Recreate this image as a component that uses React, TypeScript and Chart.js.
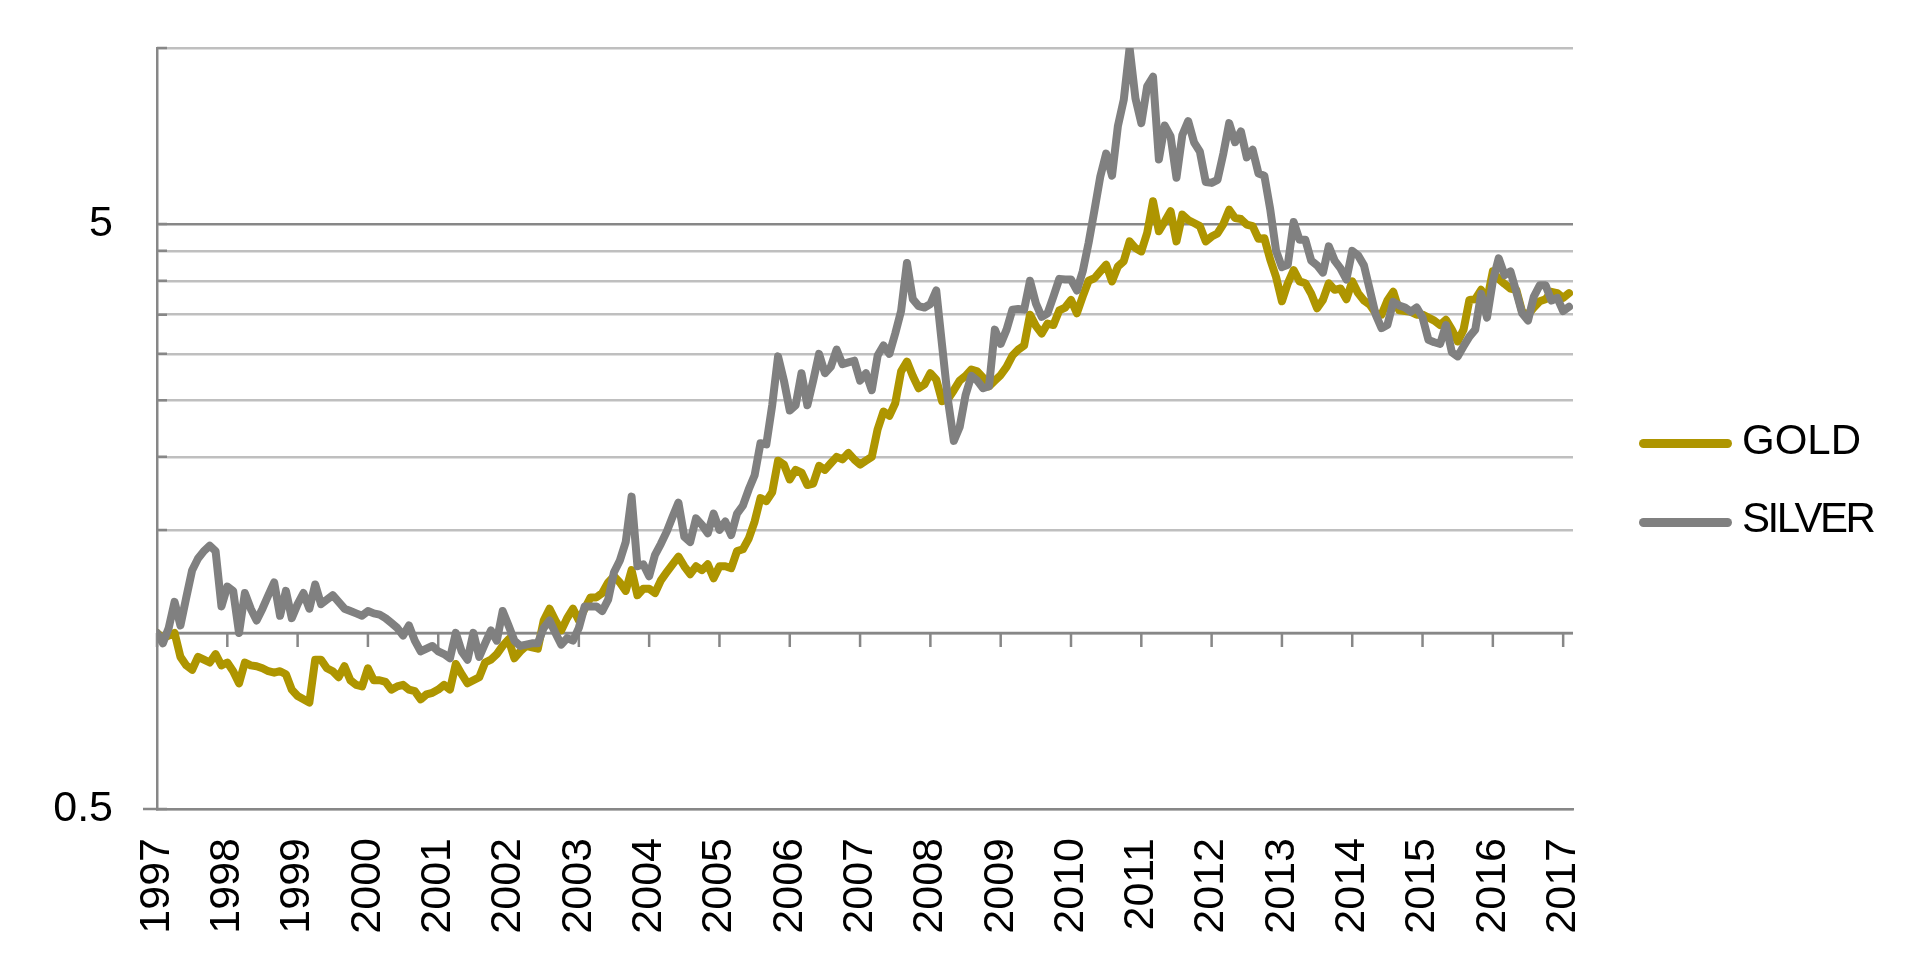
import { useEffect, useRef } from 'react';
import { Chart, registerables } from 'chart.js';

Chart.register(...registerables);

// monthly index values, Jan 1997 = 1 (Jan 1997 .. Feb 2017)
const gold = [
	1.0, 0.98, 0.99, 1.0, 0.91, 0.88, 0.865, 0.91, 0.9, 0.89, 0.92, 0.88,
	0.89, 0.86, 0.82, 0.89, 0.88, 0.877, 0.87, 0.86, 0.855, 0.86, 0.85, 0.8,
	0.78, 0.77, 0.76, 0.9, 0.9, 0.87, 0.86, 0.84, 0.877, 0.83, 0.815, 0.81,
	0.87, 0.83, 0.83, 0.825, 0.8, 0.81, 0.815, 0.8, 0.795, 0.77, 0.785, 0.79,
	0.8, 0.815, 0.8, 0.885, 0.85, 0.82, 0.83, 0.84, 0.89, 0.9, 0.92, 0.95,
	0.975, 0.905, 0.93, 0.95, 0.945, 0.94, 1.05, 1.1, 1.05, 1.01, 1.06, 1.1,
	1.05, 1.1, 1.15, 1.15, 1.17, 1.22, 1.25, 1.22, 1.18, 1.28, 1.16, 1.19,
	1.19, 1.17, 1.23, 1.27, 1.31, 1.35, 1.3, 1.26, 1.3, 1.28, 1.31, 1.24,
	1.3, 1.3, 1.29, 1.38, 1.39, 1.45, 1.55, 1.7, 1.68, 1.74, 1.97, 1.94,
	1.83, 1.9, 1.88, 1.79, 1.8, 1.93, 1.9, 1.95, 2.0, 1.98, 2.03, 1.98,
	1.94, 1.97, 2.0, 2.23, 2.39, 2.35, 2.47, 2.8, 2.91, 2.75, 2.62, 2.66,
	2.78, 2.71, 2.49, 2.51, 2.6, 2.7, 2.75, 2.82, 2.8, 2.73, 2.64, 2.7,
	2.76, 2.85, 2.98, 3.05, 3.1, 3.5, 3.35, 3.25, 3.38, 3.36, 3.56, 3.6,
	3.71, 3.52, 3.76, 4.0, 4.04, 4.15, 4.26, 3.99, 4.23, 4.32, 4.67, 4.55,
	4.49, 4.83, 5.47, 4.86, 5.05, 5.26, 4.67, 5.19, 5.08, 5.02, 4.96, 4.67,
	4.76, 4.82, 5.0, 5.29, 5.12, 5.1, 4.99, 4.96, 4.72, 4.73, 4.35, 4.06,
	3.69, 3.96, 4.17, 3.99, 3.96, 3.8, 3.59, 3.71, 3.96, 3.86, 3.88, 3.72,
	3.99, 3.81, 3.7, 3.64, 3.52, 3.5, 3.7, 3.83, 3.56, 3.55, 3.54, 3.5,
	3.5, 3.46, 3.42, 3.36, 3.43, 3.3, 3.15, 3.3, 3.71, 3.72, 3.86, 3.7,
	4.15, 4.03, 3.95, 3.88, 3.86, 3.54, 3.5, 3.6, 3.69, 3.72, 3.83, 3.81,
	3.74, 3.81,
];

const silver = [
	1.0, 0.96, 1.02, 1.13, 1.03, 1.15, 1.28, 1.34, 1.38, 1.41, 1.38, 1.11,
	1.2, 1.18, 1.0, 1.17, 1.1, 1.05, 1.1, 1.16, 1.22, 1.07, 1.18, 1.06,
	1.12, 1.17, 1.1, 1.21, 1.12, 1.14, 1.16, 1.13, 1.1, 1.09, 1.08, 1.07,
	1.09, 1.08, 1.075, 1.06, 1.04, 1.02, 0.99, 1.03, 0.97, 0.93, 0.94, 0.95,
	0.93, 0.92, 0.905, 1.0, 0.93, 0.9, 1.0, 0.91, 0.96, 1.01, 0.97, 1.09,
	1.03, 0.97, 0.95, 0.955, 0.96, 0.96, 1.02, 1.05, 1.0, 0.955, 0.98, 0.97,
	1.02, 1.11, 1.11, 1.11, 1.09, 1.14, 1.27, 1.33, 1.43, 1.71, 1.3, 1.31,
	1.25, 1.36, 1.42, 1.49, 1.58, 1.67, 1.46, 1.43, 1.57, 1.53, 1.48, 1.6,
	1.5, 1.55, 1.47, 1.6, 1.65, 1.76, 1.86, 2.11, 2.1, 2.45, 2.97, 2.7,
	2.4, 2.45, 2.78, 2.45, 2.7, 3.0, 2.78, 2.85, 3.05, 2.88, 2.9, 2.92,
	2.7, 2.78, 2.6, 2.98, 3.1, 3.0, 3.25, 3.55, 4.29, 3.72, 3.62, 3.6,
	3.65, 3.85, 3.1, 2.5, 2.13, 2.25, 2.55, 2.75, 2.7, 2.62, 2.64, 3.3,
	3.12, 3.3, 3.57, 3.58, 3.57, 4.0, 3.66, 3.47, 3.52, 3.76, 4.03, 4.02,
	4.02, 3.85, 4.15, 4.64, 5.28, 6.03, 6.6, 6.05, 7.35, 8.15, 10.0, 8.2,
	7.44, 8.6, 8.93, 6.45, 7.37, 7.06, 6.0, 7.1, 7.5, 6.9, 6.65, 5.9,
	5.88, 5.95, 6.6, 7.44, 6.9, 7.2, 6.5, 6.7, 6.1, 6.05, 5.3, 4.5,
	4.22, 4.26, 5.04, 4.7, 4.7, 4.33, 4.25, 4.13, 4.58, 4.33, 4.2, 4.02,
	4.5, 4.42, 4.25, 3.86, 3.5, 3.32, 3.36, 3.68, 3.63, 3.6, 3.54, 3.6,
	3.46, 3.17, 3.14, 3.12, 3.36, 3.02, 2.97, 3.09, 3.21, 3.3, 3.8, 3.46,
	4.0, 4.37, 4.09, 4.15, 3.83, 3.52, 3.42, 3.76, 3.93, 3.93, 3.7, 3.74,
	3.55, 3.61,
];

const years = [
	1997, 1998, 1999, 2000, 2001, 2002, 2003, 2004, 2005, 2006, 2007,
	2008, 2009, 2010, 2011, 2012, 2013, 2014, 2015, 2016, 2017,
];
const yGridValues = [0.5, 1, 1.5, 2, 2.5, 3, 3.5, 4, 4.5, 5, 10];
const yLabelValues = [0.5, 5];

const GOLD = '#AE9500';
const SILVER = '#808080';
const GRID = '#BFBFBF';
const AXIS = '#878787';
const FONT = "'Liberation Sans', Arial, sans-serif";

const toPoints = (arr: number[]) => arr.map((v, i) => ({ x: 1997 + i / 12, y: v }));

// horizontal axis crossing at 1 with its tick marks, plus small y tick marks
const crossAxis = {
	id: 'crossAxis',
	beforeDatasetsDraw(chart: any) {
		const { ctx, chartArea, scales } = chart;
		const x = scales.x;
		const y = scales.y;
		const py = y.getPixelForValue(1);
		ctx.save();
		ctx.strokeStyle = AXIS;
		ctx.lineWidth = 2.5;
		ctx.beginPath();
		ctx.moveTo(chartArea.left, py);
		ctx.lineTo(chartArea.right, py);
		years.forEach((yr) => {
			const px = x.getPixelForValue(yr);
			ctx.moveTo(px, py);
			ctx.lineTo(px, py + 14);
		});
		yGridValues.forEach((v) => {
			const p = y.getPixelForValue(v);
			ctx.moveTo(chartArea.left, p);
			ctx.lineTo(chartArea.left + 10, p);
		});
		const pb = y.getPixelForValue(0.5);
		ctx.moveTo(chartArea.left - 14, pb);
		ctx.lineTo(chartArea.left, pb);
		ctx.stroke();
		ctx.restore();
	},
};

export default function App() {
	const chartRef = useRef<HTMLCanvasElement>(null);

	useEffect(() => {
		if (!chartRef.current) return;
		const chart = new Chart(chartRef.current, {
			type: 'line',
			data: {
				datasets: [
					{
						label: 'SILVER',
						data: toPoints(silver),
						borderColor: SILVER,
						backgroundColor: SILVER,
						borderWidth: 8,
						pointRadius: 0,
						borderJoinStyle: 'round',
						borderCapStyle: 'round',
					},
					{
						label: 'GOLD',
						data: toPoints(gold),
						borderColor: GOLD,
						backgroundColor: GOLD,
						borderWidth: 8,
						pointRadius: 0,
						borderJoinStyle: 'round',
						borderCapStyle: 'round',
					},
				],
			},
			options: {
				animation: false,
				responsive: true,
				maintainAspectRatio: false,
				layout: { padding: { top: 48, right: 347, left: 0, bottom: 0 } },
				plugins: { legend: { display: false }, tooltip: { enabled: false } },
				scales: {
					x: {
						type: 'linear',
						min: 1997,
						max: 2017.14,
						afterBuildTicks: (scale: any) => {
							scale.ticks = years.map((v) => ({ value: v }));
						},
						afterFit: (scale: any) => {
							scale.height = 156;
							scale.paddingLeft = 0;
							scale.paddingRight = 0;
						},
						grid: { display: false, drawTicks: false },
						border: { display: true, color: AXIS, width: 2.5 },
						ticks: {
							autoSkip: false,
							minRotation: 90,
							maxRotation: 90,
							padding: 29,
							color: '#000',
							font: { family: FONT, size: 43 },
							callback: (v: any) => String(v),
						},
					},
					y: {
						type: 'logarithmic',
						min: 0.5,
						max: 10,
						afterBuildTicks: (scale: any) => {
							scale.ticks = yGridValues.map((v) => ({ value: v }));
						},
						afterFit: (scale: any) => {
							scale.width = 157;
							scale.paddingTop = 0;
							scale.paddingBottom = 0;
						},
						grid: {
							drawTicks: false,
							lineWidth: 2.5,
							color: (c: any) => (c.tick && (c.tick.value === 5 || c.tick.value === 1) ? AXIS : GRID),
						},
						border: { display: true, color: AXIS, width: 2.5 },
						ticks: {
							autoSkip: false,
							padding: 44,
							color: '#000',
							font: { family: FONT, size: 43 },
							callback: (v: any) => (yLabelValues.includes(Number(v)) ? String(v) : ''),
						},
					},
				},
			},
			plugins: [crossAxis],
		});
		return () => chart.destroy();
	}, []);

	const legendText = {
		position: 'absolute' as const,
		left: 1742,
		fontFamily: FONT,
		fontSize: 42,
		lineHeight: '42px',
		color: '#000',
		whiteSpace: 'nowrap' as const,
	};

	return (
		<div style={{ position: 'fixed', left: 0, top: 0, width: 1920, height: 965, background: '#fff' }}>
			<div style={{ position: 'absolute', left: 0, top: 0, width: 1920, height: 965 }}>
				<canvas ref={chartRef}></canvas>
			</div>
			<div style={{ position: 'absolute', left: 1639, top: 439, width: 93, height: 9, borderRadius: 5, background: GOLD }} />
			<div style={{ ...legendText, top: 419 }}>GOLD</div>
			<div style={{ position: 'absolute', left: 1639, top: 518, width: 93, height: 9, borderRadius: 5, background: SILVER }} />
			<div style={{ ...legendText, top: 497, letterSpacing: -2.5 }}>SILVER</div>
		</div>
	);
}
